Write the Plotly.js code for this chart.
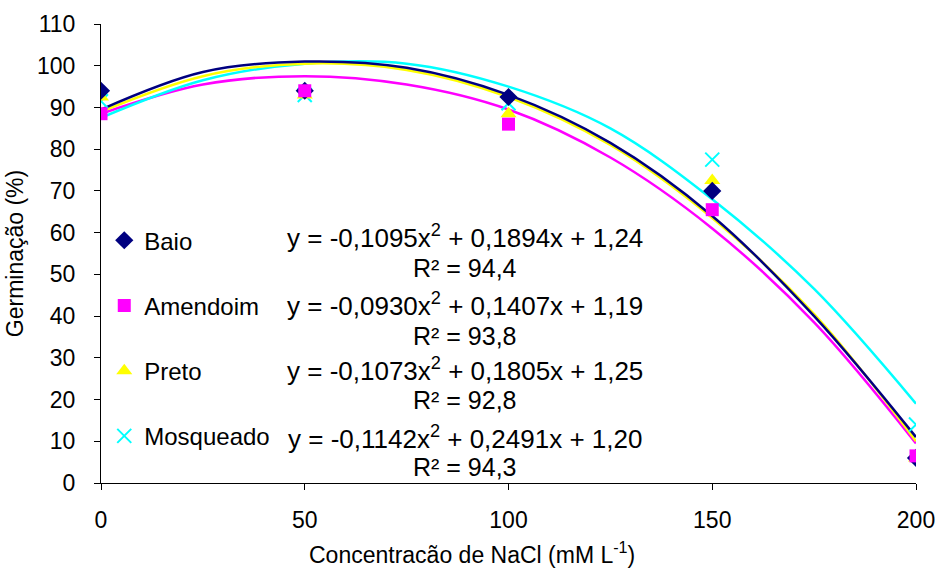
<!DOCTYPE html>
<html><head><meta charset="utf-8">
<script src="https://cdn.plot.ly/plotly-3.0.1.min.js"></script>
<style>html,body{margin:0;padding:0;background:#fff}#chart{width:940px;height:571px}</style>
</head><body><div id="chart"></div>
<script>
// Observed data (germination %)
const concentrations = [0, 50, 100, 150, 200];
const baio      = [94, 94, 92.5, 70, 6];
const amendoim  = [88.5, 94, 86, 65.5, 6.5];
const preto     = [92.5, 93, 88.5, 72.5, 6];
const mosqueado = [91.5, 93, 91, 77.5, 14];

// Trend lines
const fitX        = [0, 25, 50, 75, 100, 125, 150, 175, 200];
const baioFit     = [89.5, 98.5, 101, 99.5, 93, 81.5, 64, 40, 11];
const amendoimFit = [88.5, 95.5, 97.5, 95.5, 89.5, 78, 61, 38.5, 9.5];
const pretoFit    = [89, 97.5, 100.5, 99, 92.5, 81, 63.5, 40.5, 10];
const mosqueadoFit= [87.5, 96.5, 100.5, 100.5, 95, 85, 68, 46.5, 19];

const names = ['Baio', 'Amendoim', 'Preto', 'Mosqueado'];
const equations = [
  'y = -0,1095x<sup>2</sup> + 0,1894x + 1,24',
  'y = -0,0930x<sup>2</sup> + 0,1407x + 1,19',
  'y = -0,1073x<sup>2</sup> + 0,1805x + 1,25',
  'y = -0,1142x<sup>2</sup> + 0,2491x + 1,20'
];
const r2 = ['R² = 94,4', 'R² = 93,8', 'R² = 92,8', 'R² = 94,3'];
const xTitle = 'Concentracão de NaCl (mM L<sup>-1</sup>)';
const yTitle = 'Germinação (%)';

const colors = ['#000080', '#FF00FF', '#FFFF00', '#00FFFF'];
const symbols = ['diamond', 'square', 'triangle-up', 'x-thin'];
const sizes = [14, 13, 14, 14];
const obs = [baio, amendoim, preto, mosqueado];
const fits = [baioFit, amendoimFit, pretoFit, mosqueadoFit];

const FONT = 'Liberation Sans, Arial, sans-serif';
const traces = [];
[1, 3, 2, 0].forEach(i => {
  traces.push({x: fitX, y: fits[i], mode: 'lines', line: {color: colors[i], width: 2.5, shape: 'spline', smoothing: 1},
    showlegend: false, hoverinfo: 'skip'});
});
[3, 2, 0, 1].forEach(i => {
  traces.push({x: concentrations, y: obs[i], mode: 'markers', name: names[i], legendgroup: names[i], legendrank: i + 1,
    marker: {color: colors[i], symbol: symbols[i], size: sizes[i], line: {color: colors[i], width: i === 3 ? 2 : 0}}});
});

const annotations = [];
const eqY = [59, 42.7, 27.1, 11.0];
const r2Y = [51.5, 35.2, 19.9, 3.8];
for (let i = 0; i < 4; i++) {
  annotations.push({xref: 'paper', yref: 'y', x: 0.447, y: eqY[i], text: equations[i], showarrow: false,
    xanchor: 'center', yanchor: 'middle', font: {family: FONT, size: 26, color: '#000'}});
  annotations.push({xref: 'paper', yref: 'y', x: 0.447, y: r2Y[i], text: r2[i], showarrow: false,
    xanchor: 'center', yanchor: 'middle', font: {family: FONT, size: 25, color: '#000'}});
}
// x-axis title (offset left of centre as in the reference)
annotations.push({xref: 'paper', yref: 'paper', x: 0.455, y: -0.1525, text: xTitle, showarrow: false,
  xanchor: 'center', yanchor: 'middle', font: {family: FONT, size: 23, color: '#000'}});

const layout = {
  width: 940, height: 571,
  margin: {l: 101, r: 24, t: 24, b: 88},
  paper_bgcolor: '#fff', plot_bgcolor: '#fff',
  font: {family: FONT, size: 23, color: '#000'},
  xaxis: {range: [0, 200], tickvals: [0, 50, 100, 150, 200], ticks: 'outside', ticklen: 6, tickcolor: '#000',
    showline: true, linecolor: '#000', linewidth: 1, showgrid: false, zeroline: false, ticklabelstandoff: 10,
    tickfont: {family: FONT, size: 23, color: '#000'}},
  yaxis: {range: [0, 110], dtick: 10, ticks: 'outside', ticklen: 6, tickcolor: '#000',
    showline: true, linecolor: '#000', linewidth: 1, showgrid: false, zeroline: false, ticklabelstandoff: 14,
    tickfont: {family: FONT, size: 23, color: '#000'},
    title: {text: yTitle, font: {family: FONT, size: 23, color: '#000'}, standoff: 6}},
  showlegend: true,
  legend: {x: 0.004, y: 0.577, xanchor: 'left', yanchor: 'top', bgcolor: 'rgba(0,0,0,0)',
    font: {family: FONT, size: 24, color: '#000'}, traceorder: 'grouped', tracegroupgap: 31, itemwidth: 30},
  annotations: annotations
};
Plotly.newPlot('chart', traces, layout, {displayModeBar: false, staticPlot: true});
</script></body></html>
